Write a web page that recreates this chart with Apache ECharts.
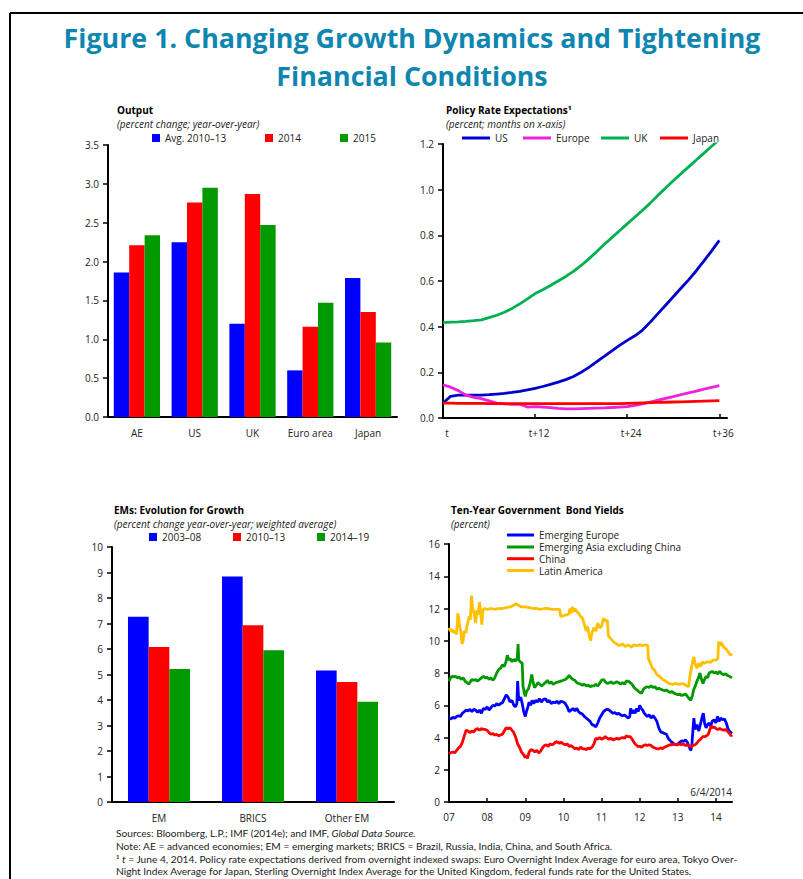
<!DOCTYPE html>
<html>
<head>
<meta charset="utf-8">
<title>Figure 1. Changing Growth Dynamics and Tightening Financial Conditions</title>
<script src="https://cdn.jsdelivr.net/npm/echarts@6.0.0/dist/echarts.min.js"></script>
<style>
  html, body { margin: 0; padding: 0; background: #fff; }
  #chart { width: 803px; height: 879px; }
</style>
</head>
<body>
<div id="chart"></div>
<script>
// ---- data: Output (percent change; year-over-year)
const OUTPUT_CATS = ['AE', 'US', 'UK', 'Euro area', 'Japan'];
const OUTPUT_AVG = [1.86, 2.25, 1.20, 0.60, 1.79];
const OUTPUT_2014 = [2.21, 2.76, 2.87, 1.16, 1.35];
const OUTPUT_2015 = [2.34, 2.95, 2.47, 1.47, 0.96];

// ---- data: Policy rate expectations (percent; months on x-axis)
const MONTHS = [0, 1, 2, 3, 4, 5, 6, 7, 8, 9, 10, 11, 12, 13, 14, 15, 16, 17, 18,
  19, 20, 21, 22, 23, 24, 25, 26, 27, 28, 29, 30, 31, 32, 33, 34, 35, 36];
const MONTH_TICKS = [0, 12, 24, 36];
const MONTH_LABELS = ['t', 't+12', 't+24', 't+36'];
const RATE_US = [0.065, 0.095, 0.100, 0.100, 0.100, 0.100, 0.102, 0.105, 0.108, 0.112,
  0.117, 0.123, 0.130, 0.138, 0.147, 0.157, 0.168, 0.182, 0.200, 0.222, 0.246, 0.270,
  0.294, 0.318, 0.340, 0.360, 0.385, 0.420, 0.457, 0.494, 0.531, 0.568, 0.605, 0.645,
  0.688, 0.732, 0.778];
const RATE_EUROPE = [0.145, 0.135, 0.120, 0.100, 0.090, 0.085, 0.075, 0.065, 0.062, 0.060,
  0.060, 0.048, 0.050, 0.048, 0.045, 0.042, 0.040, 0.040, 0.041, 0.042, 0.043, 0.044,
  0.046, 0.048, 0.050, 0.055, 0.062, 0.070, 0.078, 0.086, 0.094, 0.102, 0.110, 0.118,
  0.126, 0.134, 0.142];
const RATE_UK = [0.418, 0.420, 0.421, 0.423, 0.426, 0.430, 0.440, 0.450, 0.463, 0.480,
  0.500, 0.522, 0.545, 0.562, 0.580, 0.600, 0.620, 0.642, 0.668, 0.697, 0.728, 0.760,
  0.790, 0.820, 0.850, 0.880, 0.910, 0.941, 0.975, 1.007, 1.039, 1.070, 1.100, 1.130,
  1.160, 1.190, 1.220];
const RATE_JAPAN = [0.065, 0.065, 0.064, 0.064, 0.064, 0.064, 0.063, 0.063, 0.063, 0.063,
  0.063, 0.063, 0.063, 0.063, 0.063, 0.063, 0.063, 0.063, 0.063, 0.063, 0.063, 0.063,
  0.063, 0.063, 0.064, 0.065, 0.066, 0.067, 0.068, 0.069, 0.070, 0.071, 0.072, 0.073,
  0.074, 0.075, 0.076];

// ---- data: EMs growth (percent change year-over-year; weighted average)
const EM_CATS = ['EM', 'BRICS', 'Other EM'];
const EM_0308 = [7.26, 8.84, 5.16];
const EM_1013 = [6.08, 6.93, 4.71];
const EM_1419 = [5.22, 5.95, 3.93];

// ---- data: ten-year government bond yields (percent), [year, value]
const YEAR_TICKS = [2007, 2008, 2009, 2010, 2011, 2012, 2013, 2014];
const YEAR_LABELS = ['07', '08', '09', '10', '11', '12', '13', '14'];
const YIELD_EE = [
  [2007.0, 5.2], [2007.05, 5.15], [2007.1, 5.25], [2007.15, 5.2], [2007.2, 5.3], [2007.25, 5.35],
  [2007.3, 5.3], [2007.35, 5.5], [2007.4, 5.6], [2007.45, 5.7], [2007.5, 5.65], [2007.55, 5.75],
  [2007.6, 5.6], [2007.65, 5.75], [2007.7, 5.7], [2007.75, 5.55], [2007.8, 5.7], [2007.85, 5.5],
  [2007.9, 5.8], [2007.95, 5.75], [2008.0, 5.9], [2008.05, 5.7], [2008.1, 5.85], [2008.15, 6.0],
  [2008.2, 5.95], [2008.25, 6.1], [2008.3, 6.0], [2008.35, 6.1], [2008.4, 6.15], [2008.45, 6.4],
  [2008.5, 6.65], [2008.55, 6.5], [2008.6, 6.2], [2008.65, 6.3], [2008.7, 6.0], [2008.74, 5.9],
  [2008.78, 6.1], [2008.8, 7.5], [2008.82, 6.6], [2008.85, 6.3], [2008.88, 6.5], [2008.92, 6.1],
  [2008.96, 5.6], [2009.0, 5.3], [2009.03, 5.6], [2009.07, 5.9], [2009.1, 6.2], [2009.14, 6.0],
  [2009.18, 6.3], [2009.22, 6.1], [2009.27, 6.3], [2009.32, 6.2], [2009.37, 6.4], [2009.42, 6.2],
  [2009.47, 6.35], [2009.53, 6.4], [2009.58, 6.2], [2009.63, 6.3], [2009.68, 6.1], [2009.73, 6.2],
  [2009.78, 6.15], [2009.83, 6.25], [2009.88, 6.1], [2009.93, 6.25], [2010.0, 6.2], [2010.05, 6.1],
  [2010.1, 5.9], [2010.15, 5.6], [2010.2, 5.7], [2010.25, 5.8], [2010.3, 5.65], [2010.35, 5.8],
  [2010.4, 5.6], [2010.45, 5.5], [2010.5, 5.45], [2010.55, 5.3], [2010.6, 5.2], [2010.65, 5.1],
  [2010.7, 5.0], [2010.75, 4.8], [2010.8, 4.75], [2010.85, 4.65], [2010.9, 4.9], [2010.95, 5.2],
  [2011.0, 5.4], [2011.05, 5.6], [2011.1, 5.7], [2011.15, 5.75], [2011.2, 5.7], [2011.25, 5.6],
  [2011.3, 5.5], [2011.35, 5.55], [2011.4, 5.45], [2011.45, 5.5], [2011.5, 5.4], [2011.55, 5.35],
  [2011.6, 5.4], [2011.65, 5.3], [2011.7, 5.2], [2011.74, 5.3], [2011.76, 5.8], [2011.8, 5.5],
  [2011.84, 5.7], [2011.88, 5.5], [2011.92, 5.8], [2011.96, 5.6], [2012.0, 6.0], [2012.04, 5.8],
  [2012.08, 5.7], [2012.12, 5.5], [2012.16, 5.4], [2012.2, 5.3], [2012.25, 5.4], [2012.3, 5.2],
  [2012.35, 5.35], [2012.4, 5.2], [2012.45, 5.0], [2012.5, 4.6], [2012.55, 4.35], [2012.6, 4.3],
  [2012.65, 4.25], [2012.7, 4.2], [2012.75, 3.95], [2012.8, 3.8], [2012.85, 3.7], [2012.9, 3.6],
  [2012.95, 3.55], [2013.0, 3.6], [2013.05, 3.7], [2013.1, 3.8], [2013.15, 3.75], [2013.2, 3.85],
  [2013.25, 3.7], [2013.3, 3.4], [2013.34, 3.2], [2013.37, 3.6], [2013.4, 4.6], [2013.42, 5.2],
  [2013.45, 4.5], [2013.5, 4.8], [2013.55, 4.4], [2013.6, 4.9], [2013.64, 5.3], [2013.67, 5.5],
  [2013.7, 4.9], [2013.74, 4.6], [2013.78, 4.8], [2013.82, 4.9], [2013.86, 4.7], [2013.9, 5.0],
  [2013.95, 5.1], [2014.0, 4.9], [2014.04, 5.3], [2014.08, 5.0], [2014.12, 5.2], [2014.17, 5.1],
  [2014.22, 5.15], [2014.27, 4.9], [2014.32, 4.5], [2014.37, 4.35], [2014.42, 4.25]
];
const YIELD_EA = [
  [2007.0, 7.5], [2007.04, 7.7], [2007.08, 7.8], [2007.12, 7.75], [2007.17, 7.8], [2007.22, 7.7],
  [2007.27, 7.75], [2007.32, 7.6], [2007.37, 7.7], [2007.42, 7.5], [2007.47, 7.4], [2007.52, 7.3],
  [2007.56, 7.45], [2007.6, 7.6], [2007.65, 7.55], [2007.7, 7.6], [2007.75, 7.5], [2007.8, 7.6],
  [2007.85, 7.7], [2007.9, 7.8], [2007.95, 7.7], [2008.0, 7.75], [2008.05, 7.6], [2008.1, 7.7],
  [2008.15, 7.55], [2008.2, 7.7], [2008.25, 8.0], [2008.3, 8.2], [2008.35, 8.3], [2008.4, 8.5],
  [2008.45, 8.4], [2008.5, 8.75], [2008.53, 9.1], [2008.57, 8.8], [2008.6, 8.9], [2008.65, 8.7],
  [2008.7, 8.85], [2008.75, 8.75], [2008.79, 8.9], [2008.81, 9.8], [2008.83, 8.8], [2008.87, 8.7],
  [2008.92, 8.6], [2008.94, 7.2], [2008.97, 6.8], [2009.0, 6.55], [2009.04, 6.9], [2009.08, 7.0],
  [2009.12, 7.3], [2009.17, 7.9], [2009.2, 7.5], [2009.24, 7.1], [2009.28, 7.2], [2009.33, 7.4],
  [2009.38, 7.3], [2009.43, 7.2], [2009.48, 7.3], [2009.53, 7.4], [2009.58, 7.55], [2009.63, 7.35],
  [2009.68, 7.45], [2009.73, 7.3], [2009.8, 7.4], [2009.87, 7.45], [2009.93, 7.5], [2010.0, 7.55],
  [2010.05, 7.6], [2010.1, 7.7], [2010.15, 7.85], [2010.2, 7.7], [2010.25, 7.6], [2010.3, 7.55],
  [2010.35, 7.4], [2010.4, 7.35], [2010.45, 7.3], [2010.5, 7.25], [2010.55, 7.3], [2010.6, 7.2],
  [2010.65, 7.25], [2010.7, 7.15], [2010.75, 7.2], [2010.8, 7.2], [2010.85, 7.3], [2010.9, 7.2],
  [2010.95, 7.35], [2011.0, 7.55], [2011.05, 7.6], [2011.1, 7.45], [2011.15, 7.35], [2011.2, 7.4],
  [2011.25, 7.45], [2011.3, 7.35], [2011.35, 7.4], [2011.4, 7.45], [2011.45, 7.4], [2011.5, 7.3],
  [2011.55, 7.4], [2011.6, 7.3], [2011.65, 7.5], [2011.7, 7.5], [2011.75, 7.4], [2011.8, 7.3],
  [2011.85, 7.1], [2011.9, 7.0], [2011.95, 6.9], [2012.0, 6.8], [2012.05, 6.75], [2012.1, 7.0],
  [2012.15, 7.1], [2012.2, 7.15], [2012.25, 7.1], [2012.3, 7.2], [2012.35, 7.1], [2012.4, 7.15],
  [2012.45, 7.0], [2012.5, 7.05], [2012.55, 7.0], [2012.6, 6.95], [2012.65, 6.9], [2012.7, 6.95],
  [2012.75, 6.85], [2012.8, 6.8], [2012.85, 6.85], [2012.9, 6.75], [2012.95, 6.7], [2013.0, 6.65],
  [2013.05, 6.7], [2013.1, 6.6], [2013.15, 6.65], [2013.2, 6.7], [2013.25, 6.55], [2013.3, 6.4],
  [2013.34, 6.3], [2013.38, 6.6], [2013.42, 7.0], [2013.46, 7.2], [2013.5, 7.5], [2013.54, 7.7],
  [2013.58, 8.0], [2013.62, 7.6], [2013.66, 7.35], [2013.7, 7.6], [2013.74, 7.8], [2013.78, 7.7],
  [2013.82, 8.0], [2013.86, 8.05], [2013.9, 8.1], [2013.95, 8.0], [2014.0, 8.05], [2014.05, 7.95],
  [2014.1, 8.1], [2014.15, 7.95], [2014.2, 7.9], [2014.25, 7.95], [2014.3, 7.85], [2014.35, 7.8],
  [2014.42, 7.7]
];
const YIELD_CN = [
  [2007.0, 3.0], [2007.05, 3.05], [2007.1, 3.1], [2007.15, 3.05], [2007.2, 3.2], [2007.25, 3.35],
  [2007.3, 3.45], [2007.35, 3.7], [2007.4, 4.1], [2007.45, 4.45], [2007.5, 4.4], [2007.55, 4.3],
  [2007.6, 4.4], [2007.65, 4.35], [2007.7, 4.5], [2007.75, 4.55], [2007.8, 4.45], [2007.85, 4.55],
  [2007.9, 4.5], [2007.95, 4.5], [2008.0, 4.45], [2008.05, 4.3], [2008.1, 4.2], [2008.15, 4.25],
  [2008.2, 4.15], [2008.25, 4.2], [2008.3, 4.1], [2008.35, 4.15], [2008.4, 4.2], [2008.45, 4.4],
  [2008.5, 4.6], [2008.55, 4.55], [2008.6, 4.6], [2008.65, 4.45], [2008.7, 4.3], [2008.75, 4.0],
  [2008.8, 3.6], [2008.85, 3.4], [2008.9, 3.1], [2008.95, 2.95], [2009.0, 2.75], [2009.03, 2.9],
  [2009.06, 2.7], [2009.1, 3.1], [2009.15, 3.25], [2009.2, 3.2], [2009.25, 3.1], [2009.3, 3.2],
  [2009.35, 3.05], [2009.4, 3.15], [2009.45, 3.35], [2009.5, 3.5], [2009.55, 3.55], [2009.6, 3.45],
  [2009.65, 3.6], [2009.7, 3.55], [2009.75, 3.6], [2009.8, 3.75], [2009.85, 3.7], [2009.9, 3.65],
  [2009.95, 3.7], [2010.0, 3.6], [2010.05, 3.55], [2010.1, 3.6], [2010.15, 3.45], [2010.2, 3.5],
  [2010.25, 3.4], [2010.3, 3.3], [2010.35, 3.35], [2010.4, 3.25], [2010.45, 3.4], [2010.5, 3.3],
  [2010.55, 3.3], [2010.6, 3.25], [2010.65, 3.35], [2010.7, 3.3], [2010.75, 3.4], [2010.8, 3.6],
  [2010.85, 3.95], [2010.9, 3.9], [2010.95, 4.0], [2011.0, 3.9], [2011.05, 3.95], [2011.1, 4.05],
  [2011.15, 3.95], [2011.2, 3.9], [2011.25, 3.95], [2011.3, 3.85], [2011.35, 3.9], [2011.4, 3.95],
  [2011.45, 3.9], [2011.5, 3.95], [2011.55, 4.0], [2011.6, 3.95], [2011.65, 4.1], [2011.7, 4.05],
  [2011.75, 4.05], [2011.8, 3.9], [2011.85, 3.7], [2011.9, 3.55], [2011.95, 3.45], [2012.0, 3.45],
  [2012.05, 3.4], [2012.1, 3.5], [2012.15, 3.55], [2012.2, 3.5], [2012.25, 3.55], [2012.3, 3.5],
  [2012.35, 3.4], [2012.4, 3.35], [2012.45, 3.3], [2012.5, 3.3], [2012.55, 3.35], [2012.6, 3.3],
  [2012.65, 3.4], [2012.7, 3.45], [2012.75, 3.5], [2012.8, 3.55], [2012.85, 3.55], [2012.9, 3.6],
  [2012.95, 3.55], [2013.0, 3.55], [2013.05, 3.6], [2013.1, 3.55], [2013.15, 3.6], [2013.2, 3.5],
  [2013.25, 3.55], [2013.3, 3.45], [2013.35, 3.45], [2013.4, 3.5], [2013.45, 3.55], [2013.5, 3.65],
  [2013.55, 3.8], [2013.6, 3.9], [2013.65, 4.05], [2013.7, 4.05], [2013.75, 4.1], [2013.8, 4.2],
  [2013.84, 4.5], [2013.88, 4.7], [2013.92, 4.6], [2013.96, 4.65], [2014.0, 4.55], [2014.05, 4.5],
  [2014.1, 4.55], [2014.15, 4.5], [2014.2, 4.45], [2014.25, 4.5], [2014.3, 4.4], [2014.35, 4.25],
  [2014.4, 4.1], [2014.42, 4.15]
];
const YIELD_LA = [
  [2007.0, 10.8], [2007.04, 10.6], [2007.08, 10.7], [2007.12, 10.5], [2007.16, 10.6], [2007.2, 10.4],
  [2007.23, 11.7], [2007.25, 11.5], [2007.28, 10.9], [2007.31, 10.6], [2007.34, 9.8], [2007.37, 10.0],
  [2007.4, 10.6], [2007.44, 10.5], [2007.47, 10.9], [2007.5, 11.2], [2007.53, 11.5], [2007.56, 11.3],
  [2007.59, 12.8], [2007.62, 12.0], [2007.66, 11.7], [2007.7, 11.1], [2007.73, 11.9], [2007.76, 11.6],
  [2007.8, 12.4], [2007.83, 11.8], [2007.86, 11.0], [2007.89, 11.9], [2007.93, 12.0], [2008.0, 11.95],
  [2008.1, 12.0], [2008.2, 11.95], [2008.3, 12.0], [2008.4, 12.0], [2008.5, 12.05], [2008.6, 12.1],
  [2008.7, 12.2], [2008.76, 12.3], [2008.82, 12.2], [2008.9, 12.1], [2009.0, 12.1], [2009.1, 12.05],
  [2009.2, 12.0], [2009.3, 12.0], [2009.4, 11.95], [2009.5, 12.0], [2009.6, 12.0], [2009.7, 11.95],
  [2009.8, 11.95], [2009.9, 11.95], [2009.93, 11.5], [2010.0, 11.55], [2010.05, 11.6], [2010.1, 11.6],
  [2010.15, 11.7], [2010.17, 12.0], [2010.2, 11.7], [2010.23, 12.1], [2010.27, 11.8], [2010.3, 12.0],
  [2010.35, 11.8], [2010.4, 11.7], [2010.45, 11.5], [2010.5, 11.4], [2010.55, 11.0], [2010.6, 10.6],
  [2010.63, 10.9], [2010.67, 10.4], [2010.71, 10.0], [2010.75, 10.5], [2010.8, 10.8], [2010.85, 10.6],
  [2010.9, 11.1], [2010.95, 10.8], [2011.0, 10.9], [2011.05, 11.4], [2011.1, 11.2], [2011.15, 11.3],
  [2011.18, 10.3], [2011.25, 10.1], [2011.33, 9.9], [2011.4, 9.8], [2011.47, 9.7], [2011.55, 9.8],
  [2011.62, 9.65], [2011.7, 9.75], [2011.78, 9.6], [2011.85, 9.75], [2011.92, 9.7], [2012.0, 9.75],
  [2012.08, 9.7], [2012.15, 9.75], [2012.21, 9.7], [2012.23, 8.9], [2012.28, 8.6], [2012.33, 8.3],
  [2012.38, 8.2], [2012.45, 7.9], [2012.52, 7.8], [2012.6, 7.6], [2012.68, 7.5], [2012.76, 7.35],
  [2012.86, 7.3], [2012.95, 7.35], [2013.03, 7.3], [2013.12, 7.35], [2013.2, 7.25], [2013.28, 7.15],
  [2013.33, 8.0], [2013.38, 8.6], [2013.42, 9.0], [2013.45, 8.6], [2013.5, 8.3], [2013.55, 8.6],
  [2013.6, 8.4], [2013.65, 8.7], [2013.7, 8.6], [2013.78, 8.7], [2013.85, 8.65], [2013.92, 8.8],
  [2014.0, 8.8], [2014.05, 8.9], [2014.07, 9.95], [2014.1, 9.7], [2014.14, 9.9], [2014.2, 9.6],
  [2014.26, 9.5], [2014.32, 9.3], [2014.38, 9.1], [2014.42, 9.2]
];

// ---- styling
const FONT = '"Open Sans", "Noto Sans", sans-serif';
const NOTE_FONT = 'Lato, "Open Sans", sans-serif';
const NOTE_SIZE = 10.2;
const INK = '#222';
const BLUE = '#0000FF', RED = '#FF0000', GREEN = '#009A00';

const chart = echarts.init(document.getElementById('chart'), null, { renderer: 'svg' });

function valueAxis(gridIndex, max, interval, digits) {
  return {
    type: 'value', gridIndex, min: 0, max, interval,
    splitLine: { show: false },
    axisLine: { show: true, lineStyle: { color: '#000', width: 2 } },
    axisTick: { show: true, inside: false, length: 5, lineStyle: { color: '#000', width: 1.5 } },
    axisLabel: { margin: 9, color: INK, fontSize: 10, fontFamily: FONT,
      formatter: v => v.toFixed(digits) }
  };
}

function categoryAxis(gridIndex, cats) {
  return {
    type: 'category', gridIndex, data: cats,
    axisLine: { lineStyle: { color: '#000', width: 2 } },
    axisTick: { show: false },
    axisLabel: { margin: 11, color: INK, fontSize: 10, fontFamily: FONT, interval: 0 }
  };
}

function tickAxis(gridIndex, min, max, ticks, labels, pad) {
  return {
    type: 'value', gridIndex, min, max, interval: ticks[1] - ticks[0],
    splitLine: { show: false },
    axisLine: { lineStyle: { color: '#000', width: 2 } },
    axisTick: { show: true, inside: true, length: 4, customValues: ticks,
      lineStyle: { color: '#000', width: 1.5 } },
    axisLabel: { margin: 10, color: INK, fontSize: 10, fontFamily: FONT, customValues: ticks,
      padding: pad,
      formatter: v => { const i = ticks.indexOf(v); return i < 0 ? '' : labels[i]; } }
  };
}

function legendItem(name, x, cy, w, h) {
  return {
    data: [name], left: x, top: cy - 5.5, padding: 0, itemGap: 0,
    itemWidth: w, itemHeight: h, icon: 'rect', selectedMode: false,
    textStyle: { fontSize: 10, lineHeight: 11, fontFamily: FONT, color: INK }
  };
}

function bar(name, data, color, axis, gap) {
  return { type: 'bar', name, data, xAxisIndex: axis, yAxisIndex: axis,
    barGap: '0%', barCategoryGap: gap, itemStyle: { color } };
}

function line(name, data, color, axis, width) {
  return { type: 'line', name, data, xAxisIndex: axis, yAxisIndex: axis,
    showSymbol: false, symbol: 'none', lineStyle: { color, width }, itemStyle: { color } };
}

function label(x, y, text, opts) {
  return { type: 'text', x, y, silent: true,
    style: Object.assign({ text, fill: INK, fontFamily: FONT, fontSize: 10,
      textVerticalAlign: 'middle' }, opts || {}) };
}

const pairs = arr => arr.map((v, i) => [MONTHS[i], v]);

const italicRich = { i: { fontStyle: 'italic', fontFamily: NOTE_FONT, fontSize: NOTE_SIZE, fill: INK } };
const noteStyle = { fontFamily: NOTE_FONT, fontSize: NOTE_SIZE, rich: italicRich };

const option = {
  animation: false,
  backgroundColor: '#fff',
  textStyle: { fontFamily: FONT },
  grid: [
    { left: 108, top: 145, width: 289, height: 272, outerBoundsMode: 'none' },
    { left: 443, top: 144, width: 284, height: 274, outerBoundsMode: 'none' },
    { left: 112, top: 547, width: 282, height: 255, outerBoundsMode: 'none' },
    { left: 449, top: 544, width: 283, height: 258, outerBoundsMode: 'none' }
  ],
  xAxis: [
    categoryAxis(0, OUTPUT_CATS),
    tickAxis(1, 0, 37, MONTH_TICKS, MONTH_LABELS, [0, 0, 0, 8]),
    categoryAxis(2, EM_CATS),
    tickAxis(3, 2007, 2014.42, YEAR_TICKS, YEAR_LABELS, 0)
  ],
  yAxis: [
    valueAxis(0, 3.5, 0.5, 1),
    valueAxis(1, 1.2, 0.2, 1),
    valueAxis(2, 10, 1, 0),
    valueAxis(3, 16, 2, 0)
  ],
  legend: [
    legendItem('Avg. 2010–13', 152, 138, 8, 8),
    legendItem('2014', 265, 138, 8, 8),
    legendItem('2015', 340, 138, 8, 8),
    legendItem('US', 462, 138, 28, 3),
    legendItem('Europe', 523, 138, 28, 3),
    legendItem('UK', 601, 138, 28, 3),
    legendItem('Japan', 660, 138, 28, 3),
    legendItem('2003–08', 149, 537, 8, 8),
    legendItem('2010–13', 233, 537, 8, 8),
    legendItem('2014–19', 317, 537, 8, 8),
    legendItem('Emerging Europe', 507, 535, 27, 3),
    legendItem('Emerging Asia excluding China', 507, 547, 27, 3),
    legendItem('China', 507, 558.7, 27, 3),
    legendItem('Latin America', 507, 570.5, 27, 3)
  ],
  series: [
    bar('Avg. 2010–13', OUTPUT_AVG, BLUE, 0, '20%'),
    bar('2014', OUTPUT_2014, RED, 0, '20%'),
    bar('2015', OUTPUT_2015, GREEN, 0, '20%'),
    line('US', pairs(RATE_US), '#0000CC', 1, 2.8),
    line('Europe', pairs(RATE_EUROPE), '#EE22DD', 1, 2.8),
    line('UK', pairs(RATE_UK), '#00B050', 1, 2.8),
    line('Japan', pairs(RATE_JAPAN), RED, 1, 2.8),
    bar('2003–08', EM_0308, BLUE, 2, '34%'),
    bar('2010–13', EM_1013, RED, 2, '34%'),
    bar('2014–19', EM_1419, GREEN, 2, '34%'),
    line('Emerging Europe', YIELD_EE, BLUE, 3, 2.8),
    line('Emerging Asia excluding China', YIELD_EA, GREEN, 3, 2.8),
    line('China', YIELD_CN, RED, 3, 2.8),
    line('Latin America', YIELD_LA, '#FFC000', 3, 2.8)
  ],
  graphic: [
    { type: 'line', silent: true, shape: { x1: 10, y1: 13, x2: 803, y2: 13 },
      style: { stroke: '#000', lineWidth: 2 } },
    { type: 'line', silent: true, shape: { x1: 10, y1: 13, x2: 10, y2: 879 },
      style: { stroke: '#000', lineWidth: 2 } },
    label(412, 37, 'Figure 1. Changing Growth Dynamics and Tightening',
      { fill: '#0E86B0', fontSize: 26.8, fontWeight: 'bold', textAlign: 'center' }),
    label(412, 75, 'Financial Conditions',
      { fill: '#0E86B0', fontSize: 26.8, fontWeight: 'bold', textAlign: 'center' }),

    label(117, 110, 'Output', { fontWeight: 'bold', fill: '#000' }),
    label(117, 124, '(percent change; year-over-year)', { fontStyle: 'italic' }),
    label(446, 110, 'Policy Rate Expectations¹', { fontWeight: 'bold', fill: '#000' }),
    label(446, 124, '(percent; months on x-axis)', { fontStyle: 'italic' }),
    label(114, 510, 'EMs: Evolution for Growth', { fontWeight: 'bold', fill: '#000' }),
    label(114, 524, '(percent change year-over-year; weighted average)', { fontStyle: 'italic' }),
    label(451, 510, 'Ten-Year Government  Bond Yields', { fontWeight: 'bold', fill: '#000' }),
    label(451, 524, '(percent)', { fontStyle: 'italic' }),
    label(732, 792, '6/4/2014', { textAlign: 'right' }),

    label(116, 833, 'Sources: Bloomberg, L.P.; IMF (2014e); and IMF, {i|Global Data Source.}', noteStyle),
    label(116, 846, 'Note: AE = advanced economies; EM = emerging markets; BRICS = Brazil, Russia, India, China, and South Africa.', noteStyle),
    label(116, 859, '¹ {i|t} = June 4, 2014. Policy rate expectations derived from overnight indexed swaps: Euro Overnight Index Average for euro area, Tokyo Over-', noteStyle),
    label(116, 871, 'Night Index Average for Japan, Sterling Overnight Index Average for the United Kingdom, federal funds rate for the United States.', noteStyle)
  ]
};

chart.setOption(option);
</script>
</body>
</html>
